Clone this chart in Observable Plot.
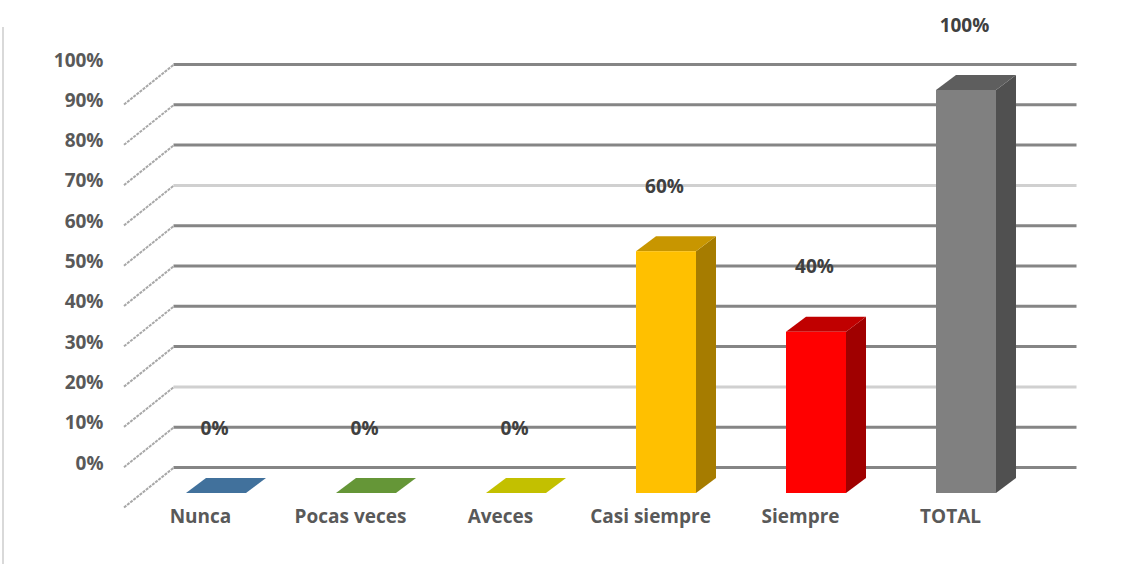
<!DOCTYPE html>
<html>
<head>
<meta charset="utf-8">
<script src="https://cdn.jsdelivr.net/npm/d3@7"></script>
<script src="https://cdn.jsdelivr.net/npm/@observablehq/plot@0.6"></script>
<style>
  html, body { margin: 0; padding: 0; background: #fff; }
  #chart { position: relative; width: 1132px; height: 564px; }
  #frame { position: absolute; left: 2px; top: 27px; width: 2px; height: 537px; background: #d9d9d9; }
</style>
</head>
<body>
<div id="chart"><div id="frame"></div></div>
<script>
// ---- data ----
const categories = ["Nunca", "Pocas veces", "Aveces", "Casi siempre", "Siempre", "TOTAL"];
const values = [0, 0, 0, 0.6, 0.4, 1.0];
const valueLabels = ["0%", "0%", "0%", "60%", "40%", "100%"];
const yTicks = [0, 0.1, 0.2, 0.3, 0.4, 0.5, 0.6, 0.7, 0.8, 0.9, 1.0];
const frontColors = ["#4a7db0", "#6e9e3f", "#c8c400", "#ffc000", "#ff0000", "#808080"];
const topColors = ["#41719c", "#659637", "#c3c000", "#c89600", "#c00000", "#5e5e5e"];
const sideColors = ["#36608a", "#557d2d", "#a09e00", "#a67c00", "#a00000", "#505050"];

// ---- geometry (pixel offsets converted through scale factors) ----
const W = 1132, H = 564;
const xDomain = [-1, 6];
const xRange = [66, 1116];             // 150 px per category
const yDomain = [-0.16, 1.2];
const pxX = (xRange[1] - xRange[0]) / (xDomain[1] - xDomain[0]);
const pxY = 403;                        // px per unit of value
const yRange = [493 + 0.16 * pxY, 493 - 1.2 * pxY];
const half = 0.2;                       // half bar width in category units
const barDX = 20 / pxX, barDV = 15 / pxY;     // bar depth
const backDX = 32.5 / pxX, backDV = 26 / pxY; // back wall offset
const frontDX = -17.5 / pxX, frontDV = -14 / pxY; // front edge of side wall
const wallLeft = -0.5, wallRight = 5.52;

const bars = categories.map((c, i) => ({i, c, v: values[i], label: valueLabels[i],
  front: frontColors[i], top: topColors[i], side: sideColors[i]}));

// side faces: vertical-sided trapezoids
const sideFaces = bars.flatMap(b => [
  {i: b.i, x: b.i + half, y1: 0, y2: b.v, fill: b.side},
  {i: b.i, x: b.i + half + barDX, y1: barDV, y2: b.v + barDV, fill: b.side}
]);
// top faces: horizontal-sided parallelograms
const topFaces = bars.flatMap(b => [
  {i: b.i, y: b.v, x1: b.i - half, x2: b.i + half, fill: b.top},
  {i: b.i, y: b.v + barDV, x1: b.i - half + barDX, x2: b.i + half + barDX, fill: b.top}
]);

const lightLines = new Set([0.2, 0.7]);
const grid = yTicks.map(v => ({v, light: lightLines.has(v)}));

const font = "'Open Sans', Lato, sans-serif";
const fs = 19;

const chart = Plot.plot({
  width: W,
  height: H,
  marginLeft: xRange[0],
  marginRight: W - xRange[1],
  marginTop: yRange[1],
  marginBottom: H - yRange[0],
  style: {fontFamily: font, background: "transparent", overflow: "visible"},
  x: {type: "linear", domain: xDomain},
  y: {type: "linear", domain: yDomain},
  marks: [
    // back wall gridlines
    Plot.ruleY(grid, {
      y: d => d.v + backDV, x1: wallLeft + backDX, x2: wallRight + backDX,
      stroke: d => d.light ? "#d0d0d0" : "#858585", strokeWidth: 3
    }),
    // side wall diagonals
    Plot.link(grid, {
      x1: wallLeft + frontDX, y1: d => d.v + frontDV,
      x2: wallLeft + backDX, y2: d => d.v + backDV,
      stroke: "#a8a8a8", strokeWidth: 2, strokeDasharray: "3 1"
    }),
    // bars: side, top, front
    Plot.areaY(sideFaces, {x: "x", y1: "y1", y2: "y2", z: "i", fill: d => d.fill, curve: "linear"}),
    Plot.areaX(topFaces, {y: "y", x1: "x1", x2: "x2", z: "i", fill: d => d.fill, curve: "linear"}),
    Plot.rect(bars, {x1: d => d.i - half, x2: d => d.i + half, y1: 0, y2: "v", fill: "front"}),
    // value labels
    Plot.text(bars, {
      x: "i", y: "v", text: "label", dy: -65, dx: -2,
      fontSize: fs, fontWeight: "bold", fill: "#404040", fontFamily: font
    }),
    // y axis labels
    Plot.axisY({
      ticks: yTicks, tickSize: 0, tickPadding: 3, dx: 40, dy: -30,
      tickFormat: d3.format(".0%"), fontSize: fs, fontWeight: "bold",
      color: "#595959", label: null
    }),
    // category labels
    Plot.axisX({
      ticks: d3.range(categories.length), tickSize: 0, tickPadding: 3, dx: -16, dy: -51,
      tickFormat: i => categories[i], fontSize: fs, fontWeight: "bold",
      color: "#595959", label: null
    })
  ]
});
chart.style.position = "absolute";
chart.style.left = "0px";
chart.style.top = "0px";
document.getElementById("chart").appendChild(chart);
</script>
</body>
</html>
